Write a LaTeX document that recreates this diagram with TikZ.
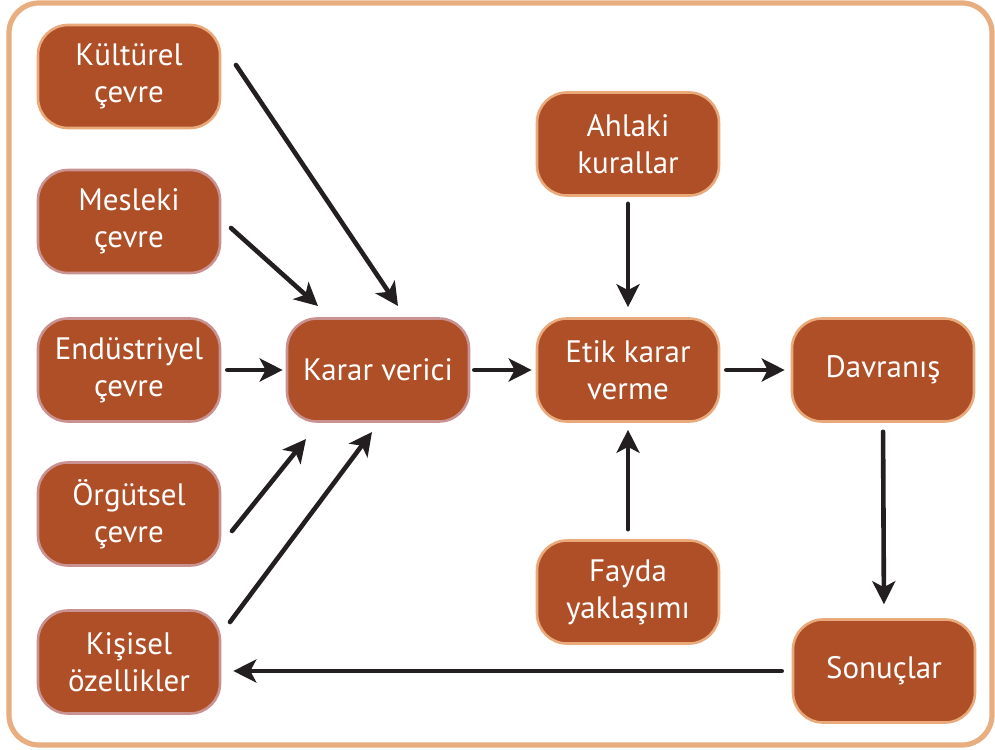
\documentclass[tikz,border=0pt]{standalone}
\usepackage{fontspec}
\setmainfont{PT Sans}
\usetikzlibrary{arrows.meta}
\definecolor{boxfill}{HTML}{AE4F27}
\definecolor{edgeorange}{HTML}{E9A97A}
\definecolor{edgepink}{HTML}{C99290}
\definecolor{framecol}{HTML}{E8AE80}
\definecolor{arrowcol}{HTML}{231F20}
\tikzset{
  box/.style={draw, line width=1.3pt, fill=boxfill, rounded corners=15pt,
    minimum width=91pt, minimum height=51.5pt, inner sep=0pt, align=center,
    text=white, font=\fontsize{15.5}{18.5}\selectfont},
  boxo/.style={box, draw=edgeorange},
  boxp/.style={box, draw=edgepink},
  conn/.style={draw=arrowcol, line width=2.3pt, line cap=round,
    -{Stealth[length=11.5pt, width=11.5pt, inset=3pt]}}
}
\begin{document}
\begin{tikzpicture}[x=0.5pt, y=-0.5pt]
\useasboundingbox (0,0) rectangle (995,749);
\draw[framecol, line width=2.6pt, rounded corners=15pt] (9,3) rectangle (992,745);

\node[boxo] (kultur) at (129,76.5) {Kültürel\\çevre};
\node[boxp] (meslek) at (129,221.5) {Mesleki\\çevre};
\node[boxp] (endus) at (129,370) {Endüstriyel\\çevre};
\node[boxp] (orgut) at (129,514) {Örgütsel\\çevre};
\node[boxp] (kisi) at (129,662) {Kişisel\\özellikler};
\node[boxp] (karar) at (378,370) {Karar verici};
\node[boxo] (ahlak) at (628,144) {Ahlaki\\kurallar};
\node[boxo] (etik) at (628,370) {Etik karar\\verme};
\node[boxo] (davr) at (883,370) {Davranış};
\node[boxo] (fayda) at (628,592) {Fayda\\yaklaşımı};
\node[boxo] (sonuc) at (884,671) {Sonuçlar};

\coordinate (kultur-s) at (236,65);
\coordinate (kultur-e) at (398,306);
\coordinate (meslek-s) at (231,228);
\coordinate (meslek-e) at (318,306);
\coordinate (orgut-s) at (232,531);
\coordinate (orgut-e) at (306,439);
\coordinate (kisi-s) at (230,622);
\coordinate (kisi-e) at (372,432);

\draw[conn] (kultur-s) -- (kultur-e);
\draw[conn] (meslek-s) -- (meslek-e);
\draw[conn] (orgut-s) -- (orgut-e);
\draw[conn] (kisi-s) -- (kisi-e);
\draw[conn, shorten <=3pt, shorten >=1.5pt] (endus.east) -- (karar.west);
\draw[conn, shorten <=2pt, shorten >=2pt] (karar.east) -- (etik.west);
\draw[conn, shorten <=3pt, shorten >=3pt] (etik.east) -- (davr.west);
\draw[conn, shorten <=3.5pt, shorten >=5pt] (ahlak.south) -- (etik.north);
\draw[conn, shorten <=5pt, shorten >=3.5pt] (fayda.north) -- (etik.south);
\draw[conn, shorten <=4.5pt, shorten >=7pt] (davr.south) -- (sonuc.north);
\draw[conn, shorten <=5pt, shorten >=6pt] (sonuc.west) -- (kisi.east|-sonuc.west);
\end{tikzpicture}
\end{document}
